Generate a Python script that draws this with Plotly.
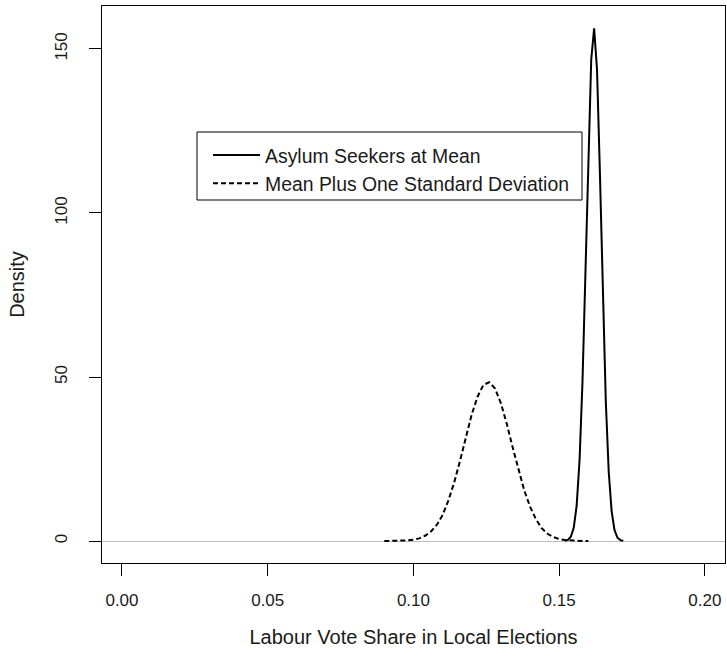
import plotly.graph_objects as go

# Dashed: "Mean Plus One Standard Deviation"
x_plus_sd = [0.090, 0.092, 0.094, 0.096, 0.098, 0.100, 0.102, 0.104, 0.106, 0.108,
             0.110, 0.112, 0.114, 0.116, 0.118, 0.120, 0.122, 0.124, 0.126, 0.128,
             0.130, 0.132, 0.134, 0.136, 0.138, 0.140, 0.142, 0.144, 0.146, 0.148,
             0.150, 0.152, 0.154, 0.156, 0.158, 0.160]
y_plus_sd = [0.0, 0.01, 0.03, 0.08, 0.18, 0.38, 0.8, 1.6, 2.9, 4.9,
             7.9, 12.4, 17.9, 24.5, 31.9, 38.6, 44.0, 47.6, 48.4, 46.5,
             42.0, 35.8, 28.7, 21.9, 15.5, 10.5, 6.7, 3.9, 2.2, 1.2,
             0.6, 0.28, 0.12, 0.05, 0.02, 0.01]

# Solid: "Asylum Seekers at Mean"
x_mean = [0.152, 0.153, 0.154, 0.155, 0.156, 0.157, 0.158, 0.159, 0.160, 0.161,
          0.162, 0.163, 0.164, 0.165, 0.166, 0.167, 0.168, 0.169, 0.170, 0.171, 0.172]
y_mean = [0.08, 0.35, 1.3, 4.0, 10.8, 24.7, 48.5, 81.9, 119.0, 146.8,
          156.3, 143.5, 111.4, 74.1, 42.6, 21.2, 9.0, 3.3, 1.0, 0.27, 0.06]

x_ticks = [0.00, 0.05, 0.10, 0.15, 0.20]
x_tick_labels = ["0.00", "0.05", "0.10", "0.15", "0.20"]
y_ticks = [0, 50, 100, 150]
y_tick_labels = ["0", "50", "100", "150"]

FONT = "Liberation Sans, Arial, sans-serif"
TXT = "#1a1a1a"
FS = 17

fig = go.Figure()
fig.add_trace(go.Scatter(x=x_mean, y=y_mean, mode="lines", name="Asylum Seekers at Mean",
                         line=dict(color="black", width=2)))
fig.add_trace(go.Scatter(x=x_plus_sd, y=y_plus_sd, mode="lines", name="Mean Plus One Standard Deviation",
                         line=dict(color="black", width=2, dash="5px,3px")))

fig.update_layout(
    width=727, height=656,
    margin=dict(l=102, r=2, t=6, b=93),
    paper_bgcolor="white", plot_bgcolor="white",
    font=dict(family=FONT, size=FS, color=TXT),
    showlegend=True,
    legend=dict(x=(208 - 102) / 623, y=(563 - 136) / 557, xanchor="left", yanchor="top",
                bgcolor="rgba(0,0,0,0)", borderwidth=0,
                font=dict(family=FONT, size=19.4, color=TXT),
                itemwidth=47, tracegroupgap=0),
    xaxis=dict(range=[-0.00686, 0.2069], tickmode="array", tickvals=x_ticks, ticktext=x_tick_labels,
               showgrid=False, zeroline=False, showline=True, linecolor="black", linewidth=1,
               mirror=True, ticks="outside", ticklen=12, tickcolor="black",
               ticklabelstandoff=10,
               title=dict(text="Labour Vote Share in Local Elections", standoff=20)),
    yaxis=dict(range=[-6.7, 163.1], tickmode="array", tickvals=y_ticks, ticktext=y_tick_labels,
               tickangle=-90, showgrid=False, zeroline=True, zerolinecolor="#BEBEBE", zerolinewidth=1,
               showline=True, linecolor="black", linewidth=1, mirror=True,
               ticks="outside", ticklen=12, tickcolor="black",
               ticklabelstandoff=15,
               title=dict(text="Density", standoff=22)),
    shapes=[dict(type="rect", xref="paper", yref="paper",
                 x0=(197 - 102) / 623, x1=(582 - 102) / 623,
                 y0=(563 - 200) / 557, y1=(563 - 132) / 557,
                 line=dict(color="black", width=1), fillcolor="rgba(0,0,0,0)")],
)

fig.write_html("out.html", config={"displayModeBar": False})

# remove the browser's default 8px body margin so the figure sits at the page origin
with open("out.html", "r", encoding="utf-8") as f:
    html = f.read()
html = html.replace("<head>", "<head><style>html,body{margin:0;padding:0;overflow:hidden;}</style>", 1)
with open("out.html", "w", encoding="utf-8") as f:
    f.write(html)
